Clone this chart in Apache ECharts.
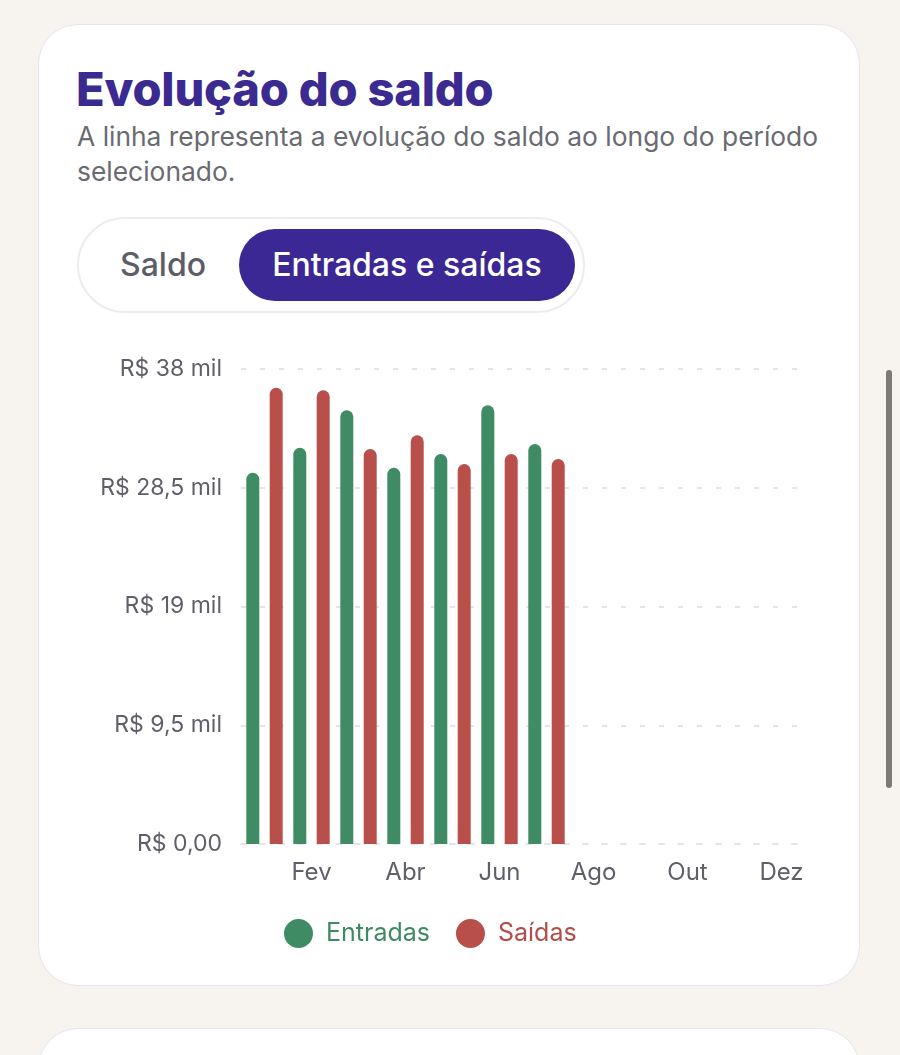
<!DOCTYPE html>
<html>
<head>
<meta charset="utf-8">
<script src="https://cdn.jsdelivr.net/npm/echarts@6/dist/echarts.min.js"></script>
<style>
  html, body { margin:0; padding:0; width:900px; height:1055px; overflow:hidden; background:#f7f3ee; font-family: Inter, "Noto Sans", sans-serif; }
  .card { position:absolute; left:38px; top:24px; width:822px; height:962px; background:#fff; border:1px solid #e7e4ee; border-radius:40px; box-sizing:border-box; }
  .card2 { position:absolute; left:38px; top:1028px; width:822px; height:100px; background:#fff; border:1px solid #e7e4ee; border-radius:40px; box-sizing:border-box; }
  .title { position:absolute; left:76px; top:60px; font-size:47px; font-weight:800; color:#3b2a8f; letter-spacing:-0.2px; line-height:58px; margin:0; white-space:nowrap; }
  .sub { position:absolute; left:77px; top:119px; width:780px; font-size:26.4px; color:#6a6a72; line-height:35px; }
  .toggle { position:absolute; left:77px; top:217px; width:508px; height:96px; border:2px solid #ececf0; border-radius:48px; box-sizing:border-box; background:#fff; }
  .saldo { position:absolute; left:120px; top:244px; font-size:32px; font-weight:500; color:#5d5d68; line-height:42px; }
  .pill { position:absolute; left:239px; top:229px; width:336px; height:72px; border-radius:36px; background:#3b2894; color:#fff; font-size:32px; font-weight:500; line-height:72px; text-align:center; }
  .scroll { position:absolute; left:886px; top:370px; width:6px; height:418px; border-radius:3px; background:#7d7a74; }
  #chart { position:absolute; left:0; top:0; width:900px; height:1055px; }
</style>
</head>
<body>
<div class="card"></div>
<div class="card2"></div>
<div class="title">Evolução do saldo</div>
<div class="sub">A linha representa a evolução do saldo ao longo do período selecionado.</div>
<div class="toggle"></div>
<div class="saldo">Saldo</div>
<div class="pill">Entradas e saídas</div>
<div class="scroll"></div>
<div id="chart"></div>
<script>
const months = ['Jan','Fev','Mar','Abr','Mai','Jun','Jul','Ago','Set','Out','Nov','Dez'];
const entradas = [29700, 31700, 34700, 30100, 31200, 35100, 32000, null, null, null, null, null];
const saidas = [36500, 36300, 31600, 32700, 30400, 31200, 30800, null, null, null, null, null];
const yTicks = [0, 9500, 19000, 28500, 38000];

function fmt(v) {
  if (v === 0) return 'R$ 0,00';
  return 'R$ ' + String(v / 1000).replace('.', ',') + ' mil';
}

const chart = echarts.init(document.getElementById('chart'), null, { renderer: 'canvas' });
const grey = '#e4e4e8';
chart.setOption({
  animation: false,
  grid: { left: 241, right: 95, top: 369, bottom: 211, containLabel: false },
  xAxis: {
    type: 'category',
    data: months,
    axisTick: { show: false },
    axisLine: { show: true, lineStyle: { color: grey, width: 2, type: [5, 14] } },
    axisLabel: {
      interval: function (i) { return i % 2 === 1; },
      color: '#5f5f6a', fontSize: 24, margin: 17, fontFamily: 'Inter'
    }
  },
  yAxis: {
    type: 'value',
    min: yTicks[0], max: yTicks[yTicks.length - 1], interval: 9500,
    axisLine: { show: false }, axisTick: { show: false },
    splitLine: { show: true, lineStyle: { color: grey, width: 2, type: [5, 14] } },
    axisLabel: { formatter: fmt, color: '#5f5f6a', fontSize: 23, margin: 19, fontFamily: 'Inter' }
  },
  legend: {
    left: 284, top: 919, padding: 0,
    icon: 'circle', itemWidth: 29, itemHeight: 29, itemGap: 26,
    textStyle: { fontSize: 25, fontFamily: 'Inter', padding: [0, 0, 0, 8] },
    data: [
      { name: 'Entradas', textStyle: { color: '#3f8a63' } },
      { name: 'Saídas', textStyle: { color: '#b24d4a' } }
    ]
  },
  series: [
    { name: 'Entradas', type: 'bar', data: entradas, barWidth: 13, barGap: '80%',
      itemStyle: { color: '#3f8c64', borderRadius: [6.5, 6.5, 0, 0] } },
    { name: 'Saídas', type: 'bar', data: saidas, barWidth: 13, barGap: '80%',
      itemStyle: { color: '#b84f4a', borderRadius: [6.5, 6.5, 0, 0] } }
  ]
});
</script>
</body>
</html>
